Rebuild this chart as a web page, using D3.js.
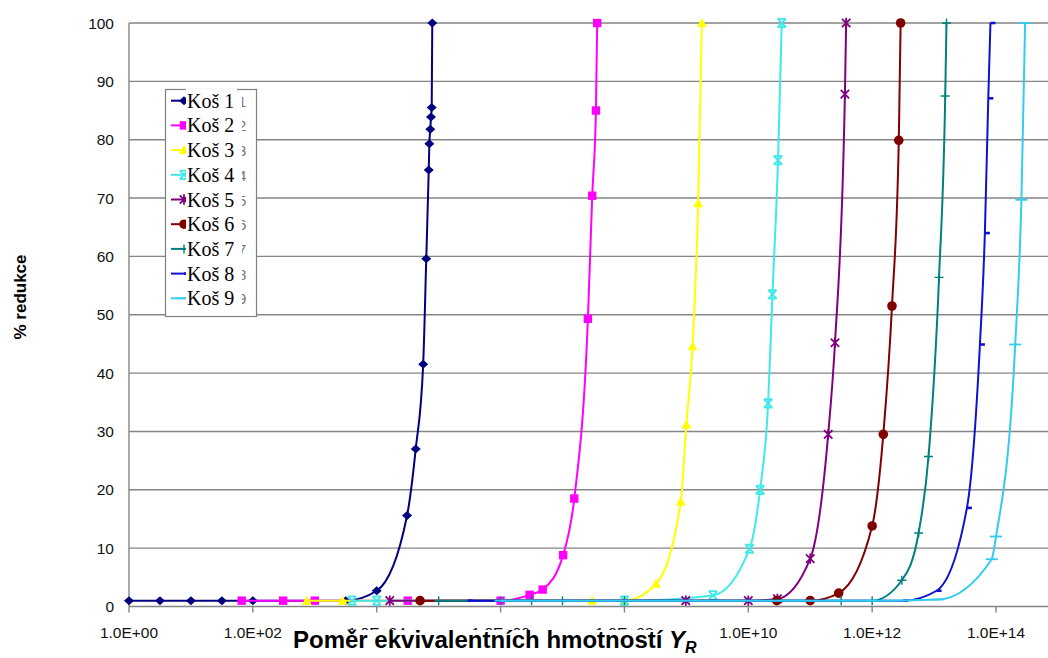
<!DOCTYPE html>
<html>
<head>
<meta charset="utf-8">
<script src="https://cdn.jsdelivr.net/npm/d3@7"></script>
<style>
  body { margin: 0; background: #fff; }
  svg { display: block; font-family: "Liberation Sans", Arial, sans-serif; }
</style>
</head>
<body>
<div id="chart"></div>
<script>
// series names and colours
var names = ['Koš 1', 'Koš 2', 'Koš 3', 'Koš 4', 'Koš 5', 'Koš 6', 'Koš 7', 'Koš 8', 'Koš 9'];

// x values are given as log10(Y_R), y values in % redukce
var kos1Exp = [0, 0.5, 1, 1.5, 2, 3.5, 4.0, 4.49, 4.63, 4.75, 4.80, 4.84, 4.85, 4.865, 4.876, 4.888, 4.897];
var kos1Val = [1, 1, 1, 1, 1, 1, 2.7, 15.6, 27, 41.5, 59.6, 74.8, 79.3, 81.8, 83.9, 85.5, 100];
var kos2Exp = [1.82, 2.49, 3.0, 4.5, 6.0, 6.47, 6.68, 7.01, 7.19, 7.41, 7.48, 7.54, 7.56];
var kos2Val = [1, 1, 1, 1, 1, 2.0, 2.9, 8.8, 18.5, 49.3, 70.4, 85, 100];
var kos3Exp = [2.87, 3.45, 7.48, 8.0, 8.51, 8.91, 9.0, 9.10, 9.19, 9.25];
var kos3Val = [1, 1, 1, 1, 3.9, 18, 31.2, 44.6, 69.1, 100];
var kos4Exp = [3.6, 4.0, 8.0, 9.43, 10.02, 10.19, 10.32, 10.39, 10.48, 10.54];
var kos4Val = [1, 1, 1, 1.9, 9.9, 20, 34.8, 53.5, 76.5, 100];
var kos5Exp = [4.21, 8.99, 10.0, 10.47, 11.0, 11.29, 11.4, 11.56, 11.58];
var kos5Val = [1, 1, 1, 1.3, 8.2, 29.5, 45.2, 87.8, 100];
var kos6Exp = [4.7, 10.46, 11.0, 11.46, 12.0, 12.18, 12.32, 12.43, 12.46];
var kos6Val = [1, 1, 1, 2.3, 13.8, 29.5, 51.5, 79.9, 100];
var kos7Exp = [5.0, 6.0, 6.5, 7.0, 8.0, 11.5, 12.0, 12.48, 12.75, 12.91, 13.08, 13.18, 13.2];
var kos7Val = [1, 1, 1, 1, 1, 1, 1, 4.5, 12.6, 25.7, 56.4, 87.5, 100];
var kos8Exp = [5.47, 12.5, 13.04, 13.53, 13.74, 13.82, 13.875, 13.91];
var kos8Val = [1, 1, 2.7, 16.9, 44.9, 64, 87.1, 100];
var kos9Exp = [6.0, 12.0, 13.07, 13.93, 14.0, 14.31, 14.41, 14.47];
var kos9Val = [1, 1, 1.2, 8.1, 12, 44.9, 69.7, 100];

var xTickExp = [0, 2, 4, 6, 8, 10, 12, 14];
var yTicks = [0, 10, 20, 30, 40, 50, 60, 70, 80, 90, 100];

var colors = ['#000080', '#ff00ff', '#ffff00', '#40e8e8', '#800080', '#800000', '#008080', '#1010d0', '#33ccee'];
var markers = ['diamond', 'square', 'triangle', 'cross', 'star', 'circle', 'plus', 'dashRight', 'dash'];

var width = 1048, height = 658;
var plotLeft = 129, plotBottom = 606.5, plotTop = 23;

var svg = d3.select('#chart').append('svg')
  .attr('width', width)
  .attr('height', height);

var x = d3.scaleLog().domain([1, 1e15]).range([plotLeft, plotLeft + 15 * 61.93]);
var y = d3.scaleLinear().domain([0, 100]).range([plotBottom, plotTop]);

var expLists = [kos1Exp, kos2Exp, kos3Exp, kos4Exp, kos5Exp, kos6Exp, kos7Exp, kos8Exp, kos9Exp];
var valLists = [kos1Val, kos2Val, kos3Val, kos4Val, kos5Val, kos6Val, kos7Val, kos8Val, kos9Val];

var series = names.map(function(n, i) {
  return {
    name: n,
    color: colors[i],
    marker: markers[i],
    points: expLists[i].map(function(e, j) { return { x: Math.pow(10, e), y: valLists[i][j] }; })
  };
});

// gridlines
svg.append('g').selectAll('line')
  .data(yTicks.filter(function(d) { return d > 0; }))
  .enter().append('line')
  .attr('x1', plotLeft).attr('x2', width + 20)
  .attr('y1', function(d) { return y(d); })
  .attr('y2', function(d) { return y(d); })
  .attr('stroke', '#858585')
  .attr('stroke-width', 1.4);

// axes lines
svg.append('line')
  .attr('x1', plotLeft).attr('x2', width + 20)
  .attr('y1', plotBottom).attr('y2', plotBottom)
  .attr('stroke', '#858585').attr('stroke-width', 1.4);
svg.append('line')
  .attr('x1', plotLeft).attr('x2', plotLeft)
  .attr('y1', plotTop).attr('y2', plotBottom)
  .attr('stroke', '#858585').attr('stroke-width', 1.4);

// y tick labels
svg.append('g').selectAll('text')
  .data(yTicks)
  .enter().append('text')
  .attr('x', 114)
  .attr('y', function(d) { return y(d); })
  .attr('dy', '0.36em')
  .attr('text-anchor', 'end')
  .attr('font-size', 15.5)
  .attr('fill', '#111')
  .text(function(d) { return d; });

// x ticks
var xt = svg.append('g');
xt.selectAll('line')
  .data(xTickExp)
  .enter().append('line')
  .attr('x1', function(d) { return x(Math.pow(10, d)); })
  .attr('x2', function(d) { return x(Math.pow(10, d)); })
  .attr('y1', plotBottom).attr('y2', plotBottom + 6)
  .attr('stroke', '#858585').attr('stroke-width', 1.4);
xt.selectAll('text')
  .data(xTickExp)
  .enter().append('text')
  .attr('x', function(d) { return x(Math.pow(10, d)); })
  .attr('y', 638)
  .attr('text-anchor', 'middle')
  .attr('font-size', 15.5)
  .attr('fill', '#111')
  .text(function(d) { return '1.0E+' + (d < 10 ? '0' + d : d); });

// marker shapes
function drawMarker(g, type, color, cx, cy) {
  if (type === 'diamond') {
    g.append('path').attr('d', 'M' + cx + ',' + (cy - 4.5) + 'L' + (cx + 5) + ',' + cy + 'L' + cx + ',' + (cy + 4.5) + 'L' + (cx - 5) + ',' + cy + 'Z')
      .attr('fill', color);
  } else if (type === 'square') {
    g.append('rect').attr('x', cx - 4.2).attr('y', cy - 4.2).attr('width', 8.4).attr('height', 8.4).attr('fill', color);
  } else if (type === 'triangle') {
    g.append('path').attr('d', 'M' + cx + ',' + (cy - 5) + 'L' + (cx + 5) + ',' + (cy + 4) + 'L' + (cx - 5) + ',' + (cy + 4) + 'Z')
      .attr('fill', color);
  } else if (type === 'circle') {
    g.append('circle').attr('cx', cx).attr('cy', cy).attr('r', 4.8).attr('fill', color);
  } else if (type === 'cross' || type === 'star') {
    var s = 4.2;
    var d = 'M' + (cx - s) + ',' + (cy - s) + 'L' + (cx + s) + ',' + (cy + s) +
            'M' + (cx + s) + ',' + (cy - s) + 'L' + (cx - s) + ',' + (cy + s) +
            'M' + (cx - s) + ',' + (cy - s) + 'L' + (cx + s) + ',' + (cy - s) +
            'M' + (cx - s) + ',' + (cy + s) + 'L' + (cx + s) + ',' + (cy + s);
    if (type === 'star') {
      d = 'M' + (cx - s) + ',' + (cy - s) + 'L' + (cx + s) + ',' + (cy + s) +
          'M' + (cx + s) + ',' + (cy - s) + 'L' + (cx - s) + ',' + (cy + s) +
          'M' + cx + ',' + (cy - s - 1) + 'L' + cx + ',' + (cy + s + 1);
    }
    g.append('path').attr('d', d).attr('stroke', color).attr('stroke-width', 1.8).attr('fill', 'none');
  } else if (type === 'plus') {
    g.append('path').attr('d', 'M' + (cx - 4.5) + ',' + cy + 'L' + (cx + 4.5) + ',' + cy + 'M' + cx + ',' + (cy - 4.5) + 'L' + cx + ',' + (cy + 4.5))
      .attr('stroke', color).attr('stroke-width', 1.4);
  } else if (type === 'dashRight') {
    g.append('path').attr('d', 'M' + cx + ',' + cy + 'L' + (cx + 5) + ',' + cy)
      .attr('stroke', color).attr('stroke-width', 2.6);
  } else if (type === 'dash') {
    g.append('path').attr('d', 'M' + (cx - 6) + ',' + cy + 'L' + (cx + 6) + ',' + cy)
      .attr('stroke', color).attr('stroke-width', 1.8);
  }
}

var line = d3.line()
  .x(function(d) { return x(d.x); })
  .y(function(d) { return y(d.y); })
  .curve(d3.curveMonotoneX);

var plot = svg.append('g');
series.forEach(function(s) {
  var g = plot.append('g');
  g.append('path')
    .datum(s.points)
    .attr('d', line)
    .attr('fill', 'none')
    .attr('stroke', s.color)
    .attr('stroke-width', 2);
  s.points.forEach(function(p) {
    drawMarker(g, s.marker, s.color, x(p.x), y(p.y));
  });
});

// legend
var lg = svg.append('g');
lg.append('rect')
  .attr('x', 165.5).attr('y', 89.5)
  .attr('width', 91).attr('height', 227)
  .attr('fill', '#fff')
  .attr('stroke', '#808080')
  .attr('stroke-width', 1.2);

var defs = svg.append('defs');
defs.append('clipPath').attr('id', 'digclip')
  .append('rect').attr('x', 242).attr('y', 90).attr('width', 14).attr('height', 226);

series.forEach(function(s, i) {
  var cy = 100.7 + 24.7 * i;
  lg.append('line')
    .attr('x1', 171).attr('x2', 186)
    .attr('y1', cy).attr('y2', cy)
    .attr('stroke', s.color).attr('stroke-width', 2);
  drawMarker(lg, s.marker, s.color, 184, cy);
  lg.append('rect')
    .attr('x', 186).attr('y', cy - 12)
    .attr('width', 51).attr('height', 24)
    .attr('fill', '#fff');
  lg.append('text')
    .attr('x', 187).attr('y', cy + 7)
    .attr('font-family', '"Liberation Serif", "Times New Roman", serif')
    .attr('font-size', 20)
    .attr('fill', '#000')
    .text(s.name);
  lg.append('text')
    .attr('x', 238).attr('y', cy + 6)
    .attr('clip-path', 'url(#digclip)')
    .attr('font-size', 15)
    .attr('fill', '#777')
    .text(i + 1);
});

// axis titles
svg.append('text')
  .attr('transform', 'translate(26,297) rotate(-90)')
  .attr('text-anchor', 'middle')
  .attr('font-size', 17)
  .attr('font-weight', 'bold')
  .attr('fill', '#000')
  .text('% redukce');

svg.append('rect')
  .attr('x', 286).attr('y', 630)
  .attr('width', 418).attr('height', 28)
  .attr('fill', '#fff');

var title = svg.append('text')
  .attr('x', 293).attr('y', 648)
  .attr('font-size', 24)
  .attr('font-weight', 'bold')
  .attr('fill', '#000');
title.append('tspan').text('Poměr ekvivalentních hmotností ');
title.append('tspan').attr('font-style', 'italic').text('Y');
title.append('tspan').attr('font-style', 'italic').attr('font-size', 16).attr('dy', 5).text('R');
</script>
</body>
</html>
